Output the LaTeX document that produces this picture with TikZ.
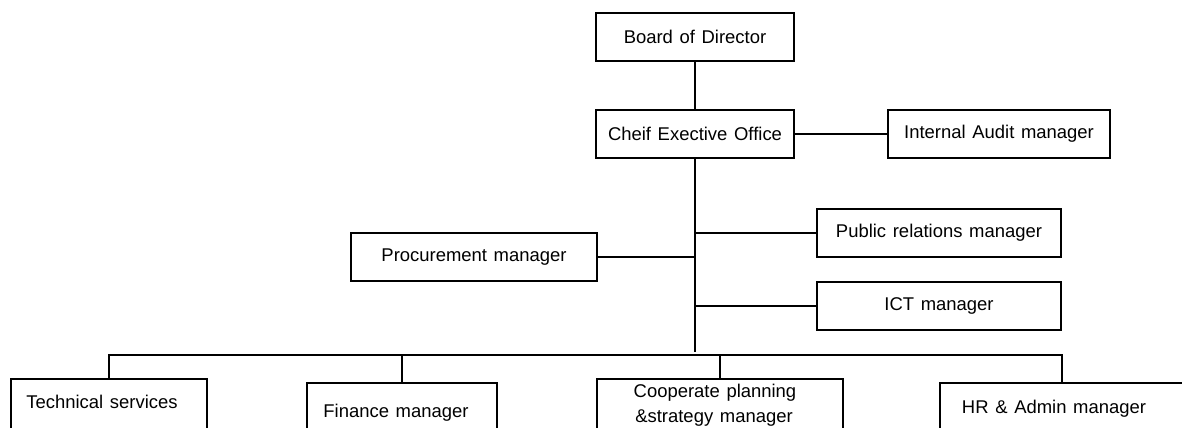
\documentclass[tikz,border=0pt]{standalone}
\usepackage{fontspec}
\setmainfont{Liberation Sans}[WordSpace=1.3]
\begin{document}
\begin{tikzpicture}[x=0.02cm,y=-0.02cm,
  every node/.style={font=\fontsize{10.5}{14}\selectfont},
  unit/.style={draw, rectangle, line width=0.04cm, inner sep=0pt, outer sep=0pt},
  link/.style={line width=0.04cm},
  caption/.style={inner sep=0pt, anchor=base}]
  \useasboundingbox (0,0) rectangle (1182,427);
  \clip (0,0) rectangle (1182,427);

  % upper levels
  \node[unit, minimum width=3.96cm, minimum height=0.96cm] (board) at (695,37) {Board of Director};
  \node[unit, minimum width=3.96cm, minimum height=0.96cm] (ceo) at (695,134) {Cheif Exective Office};
  \node[unit, minimum width=4.44cm, minimum height=0.96cm] (audit) at (999,134) {Internal Audit manager};
  \node[unit, minimum width=4.88cm, minimum height=0.96cm] (pr) at (939,233) {Public relations manager};
  \node[unit, minimum width=4.92cm, minimum height=0.96cm] (proc) at (474,257) {Procurement manager};
  \node[unit, minimum width=4.88cm, minimum height=0.96cm] (ict) at (939,306) {ICT manager};

  % departments along the bottom row
  \node[unit, anchor=north, minimum width=3.92cm, minimum height=2cm] (tech) at (109,379) {};
  \node[unit, anchor=north, minimum width=3.80cm, minimum height=2cm] (fin) at (402,383) {};
  \node[unit, anchor=north, minimum width=4.92cm, minimum height=2cm] (coop) at (720,379) {};
  \node[unit, anchor=north, minimum width=4.88cm, minimum height=2cm] (hr) at (1062,383) {};

  \node[caption] (tech-t) at (102,408) {Technical services};
  \node[caption] (fin-t) at (396,417) {Finance manager};
  \node[caption] (coop-t1) at (715,397) {Cooperate planning};
  \node[caption] (coop-t2) at (714,422) {\&strategy manager};
  \node[caption] (hr-t) at (1054,413) {HR \& Admin manager};

  % reporting lines
  \draw[link] (board) -- (ceo);
  \draw[link] (ceo) -- (audit);
  \coordinate (trunkend) at (695,352);
  \draw[link] (ceo.south) -- (trunkend);
  \draw[link] (pr.west -| ceo.south) -- (pr.west);
  \draw[link] (proc.east) -- (proc.east -| ceo.south);
  \draw[link] (ict.west -| ceo.south) -- (ict.west);
  \coordinate (bus) at (0,355);
  \draw[link] (tech.north) -- (tech.north |- bus) -- (hr.north |- bus) -- (hr.north);
  \draw[link] (fin.north) -- (fin.north |- bus);
  \draw[link] (coop.north) -- (coop.north |- bus);
\end{tikzpicture}
\end{document}
